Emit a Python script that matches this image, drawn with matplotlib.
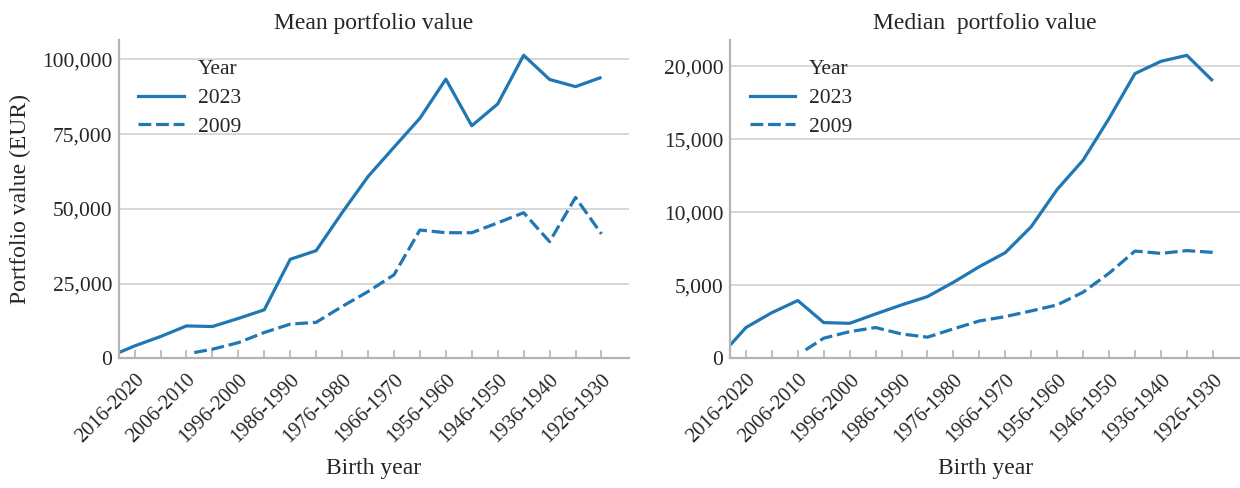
import matplotlib
matplotlib.use("Agg")
import matplotlib.pyplot as plt
from matplotlib.lines import Line2D
from matplotlib.ticker import FuncFormatter, MultipleLocator

# birth cohorts, youngest first (5-year bins)
cohorts = ["2016-2020", "2011-2015", "2006-2010", "2001-2005", "1996-2000",
           "1991-1995", "1986-1990", "1981-1985", "1976-1980", "1971-1975",
           "1966-1970", "1961-1965", "1956-1960", "1951-1955", "1946-1950",
           "1941-1945", "1936-1940", "1931-1935", "1926-1930"]
cohort_mid = [int(c[:4]) + 2 for c in cohorts]

# 2023 survey: youngest group (born 2021+) plus the 5-year cohorts
year_2023 = [2021] + cohort_mid
mean_2023 = [1900, 4100, 7250, 10800, 10600, 13300, 16200, 33100, 36000, 48700,
             60800, 70600, 80300, 93400, 77800, 85100, 101400, 93300, 90900, 94000]
median_2023 = [910, 2100, 3120, 3950, 2440, 2390, 3030, 3650, 4220, 5200,
               6270, 7230, 9010, 11560, 13570, 16420, 19500, 20340, 20750, 19000]

# 2009 survey: youngest group born after 2005, then the cohorts from 2001-2005
year_2009 = [2006.5] + cohort_mid[3:]
mean_2009 = [1900, 3000, 5200, 8600, 11400, 12000, 17300, 22300, 27900, 42900,
             42000, 42000, 45300, 48700, 39000, 53800, 41600]
median_2009 = [570, 1370, 1820, 2100, 1660, 1440, 2010, 2550, 2850, 3240,
               3650, 4520, 5820, 7340, 7180, 7370, 7250]

plt.rcParams["font.family"] = ["Liberation Serif", "DejaVu Serif"]
plt.rcParams["text.color"] = "#262626"
plt.rcParams["axes.labelcolor"] = "#262626"
plt.rcParams["xtick.color"] = "#262626"
plt.rcParams["ytick.color"] = "#262626"

fs_label = 17
fs_tick = 15.5
fs_xtick = 14.8
blue = "#1f77b4"
spine_col = "#b4b4b4"
grid_col = "#cdcdcd"

fig = plt.figure(figsize=(12.4, 4.88), dpi=100)
ax1 = fig.add_axes([0.096, 0.266, 0.411, 0.652])
ax2 = fig.add_axes([0.589, 0.266, 0.411, 0.652])

panels = [
    (ax1, mean_2023, mean_2009, "Mean portfolio value", 106500, 25000),
    (ax2, median_2023, median_2009, "Median  portfolio value", 21800, 5000),
]

for ax, v23, v09, title, ytop, ystep in panels:
    ax.plot(year_2023, v23, color=blue, lw=2.3, solid_capstyle="butt")
    ax.plot(year_2009, v09, color=blue, lw=2.3, dashes=(4, 1.5))

    ax.set_xlim(2021, 1922.75)
    ax.set_ylim(0, ytop)
    ax.yaxis.set_major_locator(MultipleLocator(ystep))
    ax.set_xticks(cohort_mid)
    ax.set_xticklabels([c if i % 2 == 0 else "" for i, c in enumerate(cohorts)],
                       rotation=45, ha="right", rotation_mode="anchor",
                       fontsize=fs_xtick)
    ax.tick_params(axis="x", direction="in", length=6, width=1.2,
                   color=spine_col, pad=9)
    ax.tick_params(axis="y", length=0, pad=5, labelsize=fs_tick)
    ax.yaxis.set_major_formatter(FuncFormatter(lambda v, p: f"{int(v):,}"))

    ax.grid(axis="y", color=grid_col, lw=1.1)
    ax.set_axisbelow(True)
    for s in ["top", "right"]:
        ax.spines[s].set_visible(False)
    for s in ["left", "bottom"]:
        ax.spines[s].set_color(spine_col)
        ax.spines[s].set_linewidth(1.6)

    ax.set_title(title, fontsize=fs_label, pad=8)
    ax.set_xlabel("Birth year", fontsize=fs_label)
    ax.xaxis.set_label_coords(0.5, -0.315)

    handles = [Line2D([], [], color="none"),
               Line2D([], [], color=blue, lw=2.3),
               Line2D([], [], color=blue, lw=2.3, dashes=(4, 1.5))]
    ax.legend(handles, ["Year", "2023", "2009"], loc="upper left",
              frameon=False, fontsize=fs_tick, handlelength=2.1,
              handletextpad=0.65, labelspacing=0.4)

ax1.set_ylabel("Portfolio value (EUR)", fontsize=fs_label, labelpad=8)

fig.savefig("out.png", dpi=100)
